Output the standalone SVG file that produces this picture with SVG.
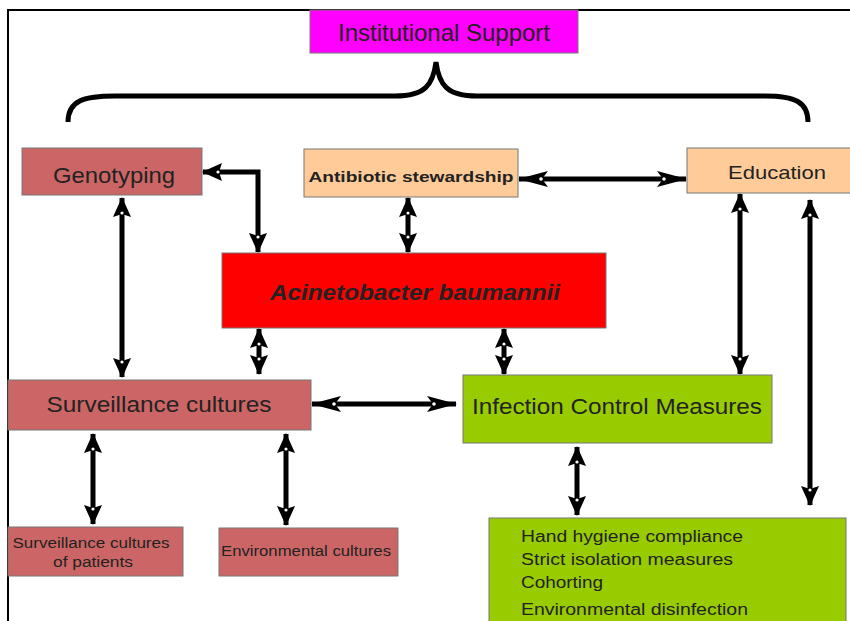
<svg xmlns="http://www.w3.org/2000/svg" width="850" height="621" viewBox="0 0 850 621">
<defs>
<marker id="ah" viewBox="0 0 20 20" refX="19" refY="10" markerWidth="20" markerHeight="20" markerUnits="userSpaceOnUse" orient="auto-start-reverse">
<path d="M0,1 L20,10 L0,19 L3,10 Z" fill="#000"/>
<circle cx="4" cy="10" r="1.6" fill="#fff"/>
</marker>
<marker id="ahl" viewBox="0 0 30 18" refX="29" refY="9" markerWidth="30" markerHeight="18" markerUnits="userSpaceOnUse" orient="auto-start-reverse">
<path d="M0,1 L30,9 L0,17 L6,9 Z" fill="#000"/>
<circle cx="7" cy="9" r="1.8" fill="#fff"/>
</marker>
</defs>
<style>
.box{stroke:#777;stroke-width:1}
.t{font-family:"Liberation Sans",Arial,sans-serif;fill:#222}
.c{fill:none;stroke:#000;stroke-width:5;marker-start:url(#ah);marker-end:url(#ah)}
.cl{fill:none;stroke:#000;stroke-width:5;marker-start:url(#ahl);marker-end:url(#ahl)}
</style>
<rect x="0" y="0" width="850" height="621" fill="#fff"/>
<g id="frame" fill="none" stroke="#000" stroke-width="2">
<path d="M8,621 V10 H850"/>
</g>
<g id="institutional">
<rect class="box" x="310" y="10" width="268" height="43" fill="#FF00FF"/>
<text class="t" x="444" y="41" font-size="24" text-anchor="middle" textLength="212" lengthAdjust="spacingAndGlyphs">Institutional Support</text>
</g>
<g id="brace">
<path d="M68,122 C68,100 85,96 115,96 H395 C425,96 433,85 436,62 C439,85 447,96 477,96 H765 C795,96 808,102 808,122" fill="none" stroke="#000" stroke-width="5"/>
</g>
<g id="genotyping">
<rect class="box" x="22" y="148" width="180" height="47" fill="#CC6666"/>
<text class="t" x="114" y="183" font-size="22" text-anchor="middle" textLength="122" lengthAdjust="spacingAndGlyphs">Genotyping</text>
</g>
<g id="antibiotic">
<rect class="box" x="304" y="149" width="214" height="48" fill="#FFCC99"/>
<text class="t" x="411" y="182" font-size="14" font-weight="bold" text-anchor="middle" textLength="205" lengthAdjust="spacingAndGlyphs">Antibiotic stewardship</text>
</g>
<g id="education">
<rect class="box" x="687" y="148" width="165" height="45" fill="#FFCC99"/>
<text class="t" x="777" y="179" font-size="19" text-anchor="middle" textLength="98" lengthAdjust="spacingAndGlyphs">Education</text>
</g>
<g id="acinetobacter">
<rect class="box" x="222" y="253" width="384" height="75" fill="#FF0000"/>
<text class="t" x="415" y="300" font-size="22" font-weight="bold" font-style="italic" fill="#111" text-anchor="middle" textLength="290" lengthAdjust="spacingAndGlyphs">Acinetobacter baumannii</text>
</g>
<g id="surveillance">
<rect class="box" x="8" y="380" width="303" height="50" fill="#CC6666"/>
<text class="t" x="159" y="412" font-size="22" text-anchor="middle" textLength="225" lengthAdjust="spacingAndGlyphs">Surveillance cultures</text>
</g>
<g id="icm">
<rect class="box" x="463" y="375" width="309" height="68" fill="#99CC00"/>
<text class="t" x="617" y="414" font-size="22" text-anchor="middle" textLength="290" lengthAdjust="spacingAndGlyphs">Infection Control Measures</text>
</g>
<g id="patients">
<rect class="box" x="8" y="527" width="175" height="49" fill="#CC6666"/>
<text class="t" x="91" y="548" font-size="14" text-anchor="middle" textLength="157" lengthAdjust="spacingAndGlyphs">Surveillance cultures</text>
<text class="t" x="93" y="567" font-size="14" text-anchor="middle" textLength="80" lengthAdjust="spacingAndGlyphs">of patients</text>
</g>
<g id="environmental">
<rect class="box" x="219" y="528" width="179" height="48" fill="#CC6666"/>
<text class="t" x="306" y="556" font-size="14" text-anchor="middle" textLength="170" lengthAdjust="spacingAndGlyphs">Environmental cultures</text>
</g>
<g id="measures">
<rect class="box" x="489" y="518" width="357" height="110" fill="#99CC00"/>
<text class="t" x="521" y="542" font-size="16" textLength="222" lengthAdjust="spacingAndGlyphs">Hand hygiene compliance</text>
<text class="t" x="521" y="565" font-size="16" textLength="212" lengthAdjust="spacingAndGlyphs">Strict isolation measures</text>
<text class="t" x="521" y="588" font-size="16" textLength="82" lengthAdjust="spacingAndGlyphs">Cohorting</text>
<text class="t" x="521" y="615" font-size="16" textLength="227" lengthAdjust="spacingAndGlyphs">Environmental disinfection</text>
</g>
<g id="connectors">
<path class="c" d="M203,172 H258 V252"/>
<path class="c" d="M408,198 V252"/>
<path class="cl" d="M519,179 H686"/>
<path class="c" d="M740,194 V374"/>
<path class="c" d="M810,200 V505"/>
<path class="c" d="M122,198 V377"/>
<path class="c" d="M259,329 V374"/>
<path class="c" d="M504,329 V374"/>
<path class="cl" d="M312,404 H456"/>
<path class="c" d="M93,434 V524"/>
<path class="c" d="M286,434 V525"/>
<path class="c" d="M577,447 V515"/>
</g>
</svg>
